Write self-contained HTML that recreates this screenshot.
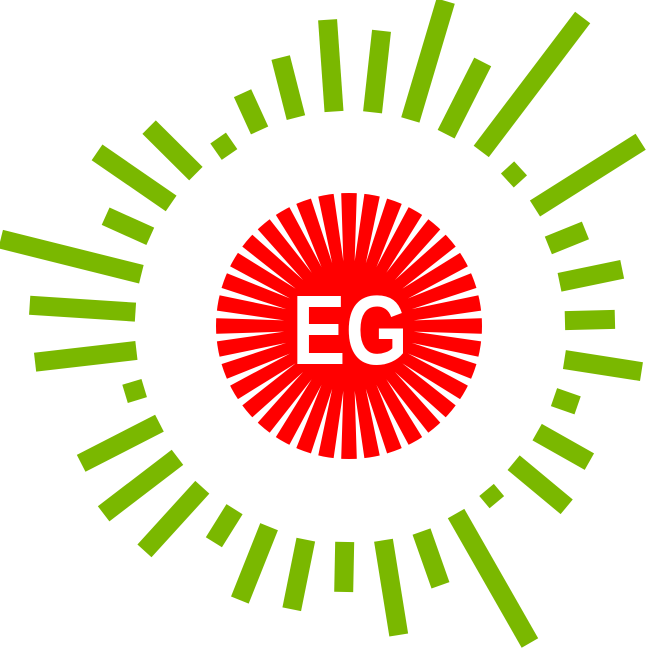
<!DOCTYPE html>
<html><head><meta charset="utf-8"><style>
html,body{margin:0;padding:0;background:#fff;}
svg{display:block;}
</style></head><body>
<svg id="chart" width="650" height="656" viewBox="0 0 650 656" xmlns="http://www.w3.org/2000/svg">
<g id="bars"></g>
<g id="sun"></g>
<text x="350" y="364" text-anchor="middle" font-family="Liberation Sans, sans-serif" font-weight="bold" font-size="98" textLength="116" lengthAdjust="spacingAndGlyphs" fill="#fff">EG</text>
</svg>
<script>
const barLengths = [307,297,339,296,387,233,345,255,279,266,296,242,276,283,230,365,275,313,266,289,295,255,304,309,301,234,316,320,359,267,306,282,229,256,277];
const barInner = [215,215,215,215,219,215,220,215,215,216,218,217,216,214,214,216,218,217,216,218,216,216,218,216,213,214,214,214,214,218,216,216,209,215,215];
const startAngle = -4;
const cx = 349, cy = 326;
const NS = 'http://www.w3.org/2000/svg';
function angleScale(i){ return (startAngle + i*360/barLengths.length) * Math.PI/180; }
function pt(a, r){ return [cx + r*Math.sin(a), cy - r*Math.cos(a)]; }
const bars = document.getElementById('bars');
barLengths.forEach((len, i) => {
  const a = angleScale(i);
  const [x1,y1] = pt(a, barInner[i]);
  const [x2,y2] = pt(a, len);
  const l = document.createElementNS(NS,'line');
  l.setAttribute('x1',x1); l.setAttribute('y1',y1);
  l.setAttribute('x2',x2); l.setAttribute('y2',y2);
  l.setAttribute('stroke','#7ab800'); l.setAttribute('stroke-width','19');
  
  
  bars.appendChild(l);
});
const sun = document.getElementById('sun');
const c = document.createElementNS(NS,'circle');
c.setAttribute('cx',cx); c.setAttribute('cy',cy); c.setAttribute('r',133);
c.setAttribute('fill','#ff0000');


sun.appendChild(c);
const rays = 36;
for (let i=0;i<rays;i++){
  const a = (i+0.5)*2*Math.PI/rays;
  const [xa,ya] = pt(a, 65);
  const [xb,yb] = pt(a-0.03, 140);
  const [xc,yc] = pt(a+0.03, 140);
  const p = document.createElementNS(NS,'polygon');
  p.setAttribute('points', `${xa},${ya} ${xb},${yb} ${xc},${yc}`);
  p.setAttribute('fill','#fff');
  
  
  sun.appendChild(p);
}
</script>
</body></html>
